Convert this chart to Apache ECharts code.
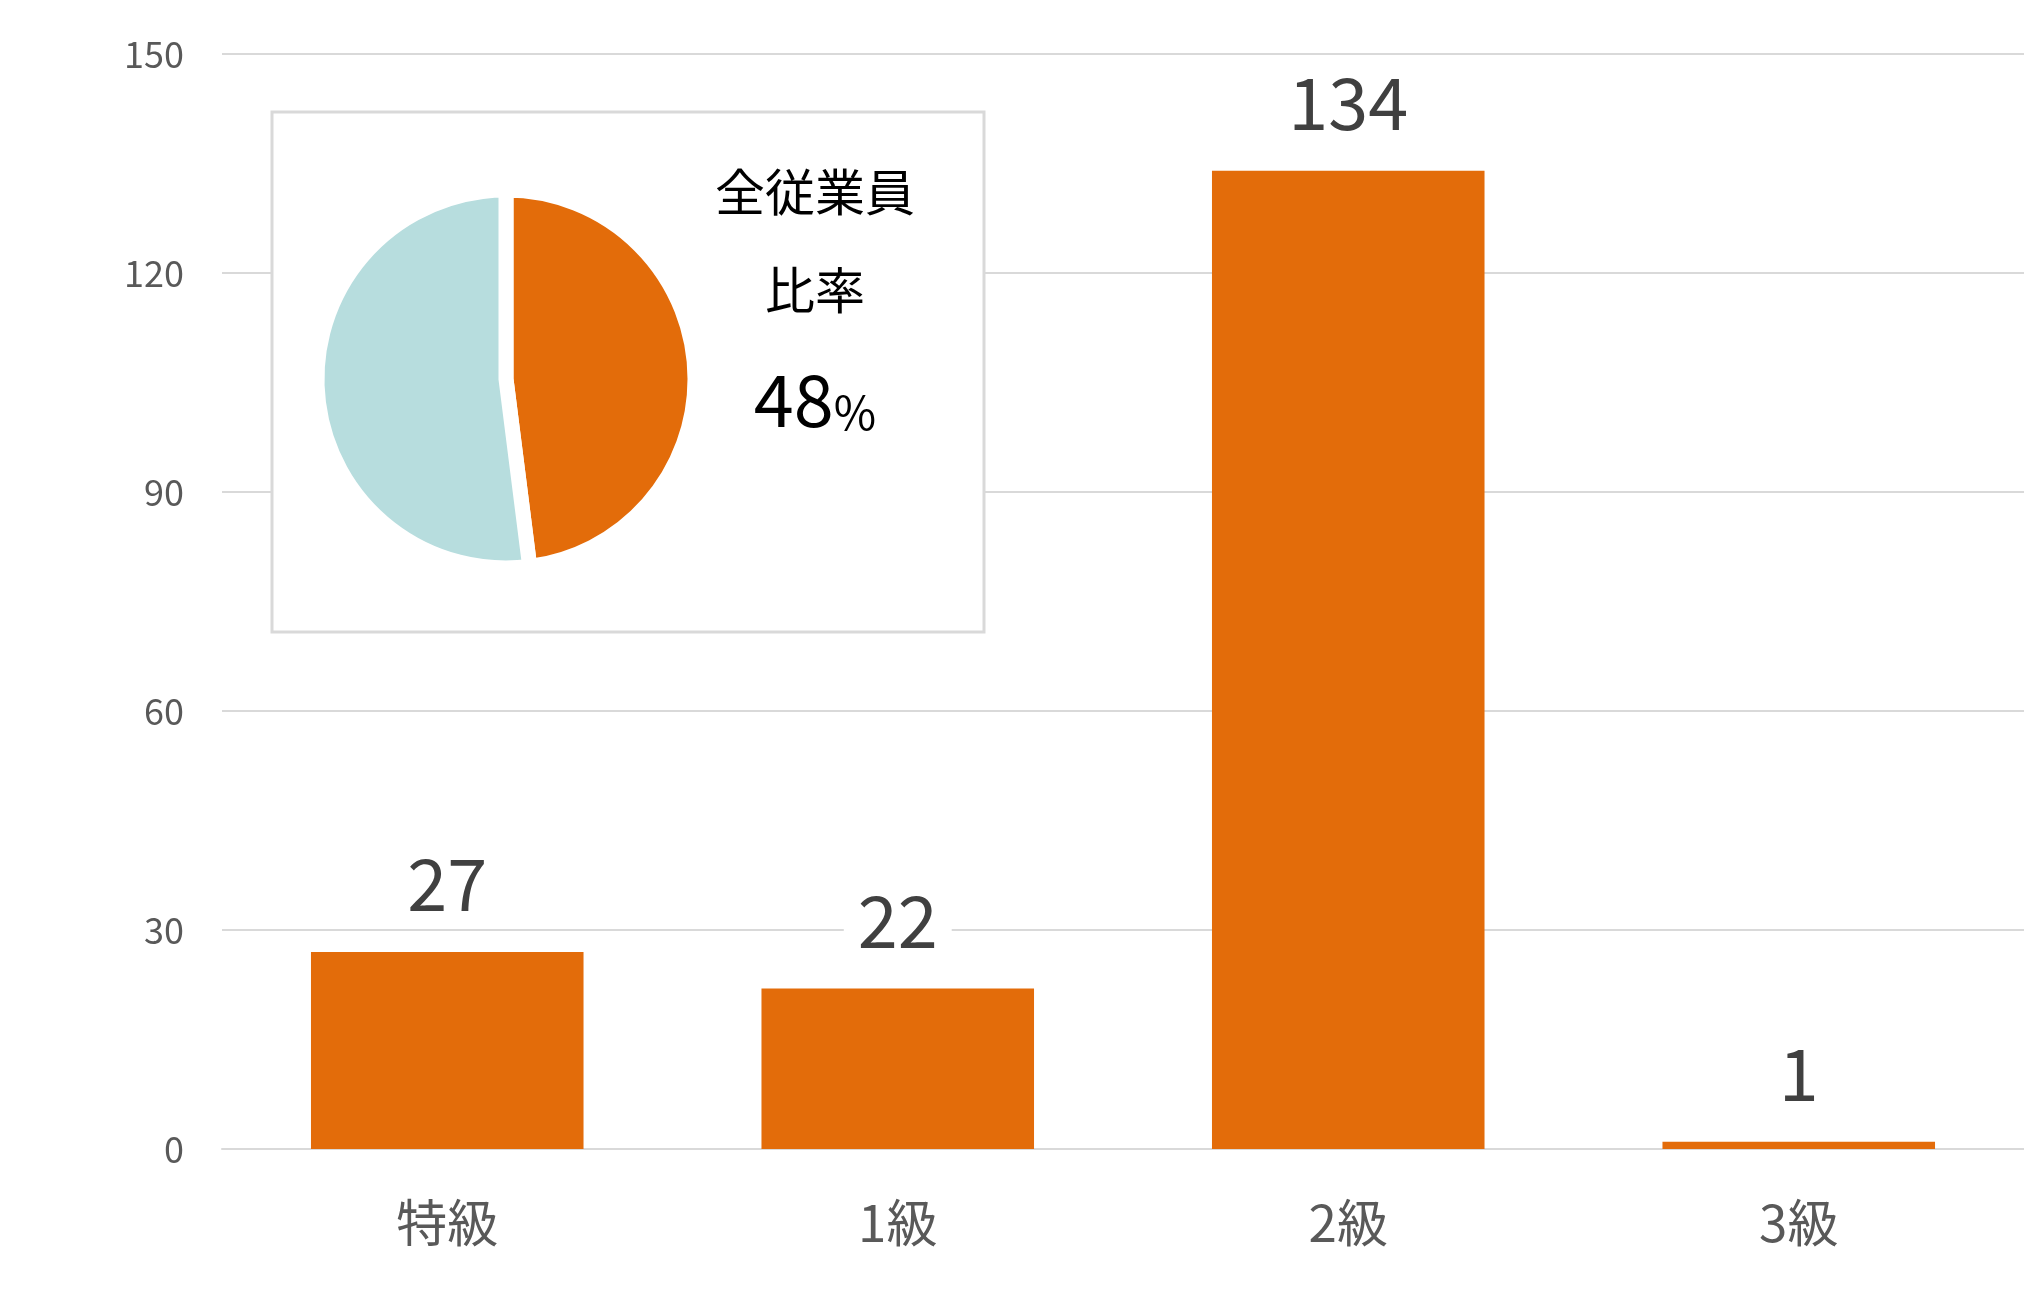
<!DOCTYPE html>
<html>
<head>
<meta charset="utf-8">
<script src="https://cdn.jsdelivr.net/npm/echarts@6/dist/echarts.min.js"></script>
<style>
  html, body { margin: 0; padding: 0; background: #fff; }
  #myChart { width: 2024px; height: 1299px; }
</style>
</head>
<body>
<div id="myChart"></div>
<script>
// 棒グラフのデータ
var categories = ['特級', '1級', '2級', '3級'];
var counts = [27, 22, 134, 1];
var yTicks = { min: 0, max: 150, interval: 30 };

// 円グラフ（全従業員比率）
var pieNames = ['対象', 'その他'];
var pieValues = [48, 52];
var pieTitle = ['全従業員', '比率'];

var FONT = '"Noto Sans CJK JP", "Noto Sans", sans-serif';
var ORANGE = '#E36C0A';
var BLUE = '#B7DDDE';

var myChart = echarts.init(document.getElementById('myChart'), null, {renderer: 'canvas'});

myChart.setOption({
    animation: false,
    textStyle: { fontFamily: FONT },
    grid: { left: 222, right: 0, top: 54, bottom: 150 },
    xAxis: {
        type: 'category',
        data: categories,
        axisLine: { lineStyle: { color: '#d9d9d9', width: 2 } },
        axisTick: { show: false },
        axisLabel: { color: '#595959', fontSize: 51, margin: 48, fontFamily: FONT }
    },
    yAxis: {
        type: 'value',
        min: yTicks.min,
        max: yTicks.max,
        interval: yTicks.interval,
        axisLine: { show: false },
        axisTick: { show: false },
        splitLine: { lineStyle: { color: '#d9d9d9', width: 2 } },
        axisLabel: { color: '#595959', fontSize: 36, margin: 38, fontFamily: FONT }
    },
    graphic: [
        {
            // 円グラフの枠
            type: 'rect',
            z: 1,
            shape: { x: 272, y: 112, width: 712, height: 520 },
            style: { fill: '#fff', stroke: '#d9d9d9', lineWidth: 3 }
        },
        {
            type: 'text',
            z: 5,
            x: 815, y: 192,
            style: { text: pieTitle[0], font: '50px ' + FONT, fill: '#000', align: 'center', verticalAlign: 'middle' }
        },
        {
            type: 'text',
            z: 5,
            x: 815, y: 290,
            style: { text: pieTitle[1], font: '50px ' + FONT, fill: '#000', align: 'center', verticalAlign: 'middle' }
        },
        {
            type: 'text',
            z: 5,
            x: 815, y: 400,
            style: {
                text: '{n|' + pieValues[0] + '}{p|%}',
                align: 'center', verticalAlign: 'middle',
                rich: {
                    n: { fontSize: 72, fontFamily: FONT, fill: '#000', color: '#000' },
                    p: { fontSize: 46, fontFamily: FONT, fill: '#000', color: '#000', verticalAlign: 'bottom' }
                }
            }
        }
    ],
    series: [
        {
            type: 'bar',
            data: counts,
            barWidth: '60.5%',
            itemStyle: { color: ORANGE },
            z: 3,
            label: {
                show: true,
                position: 'top',
                distance: 32,
                color: '#404040',
                fontSize: 72,
                fontFamily: FONT,
                backgroundColor: '#fff',
                padding: [0, 14]
            }
        },
        {
            type: 'pie',
            z: 4,
            center: [506, 379],
            radius: 189,
            startAngle: 90,
            clockwise: true,
            silent: true,
            label: { show: false },
            labelLine: { show: false },
            itemStyle: { borderColor: '#fff', borderWidth: 15 },
            data: [
                { name: pieNames[0], value: pieValues[0], itemStyle: { color: ORANGE } },
                { name: pieNames[1], value: pieValues[1], itemStyle: { color: BLUE } }
            ]
        }
    ]
});
</script>
</body>
</html>
